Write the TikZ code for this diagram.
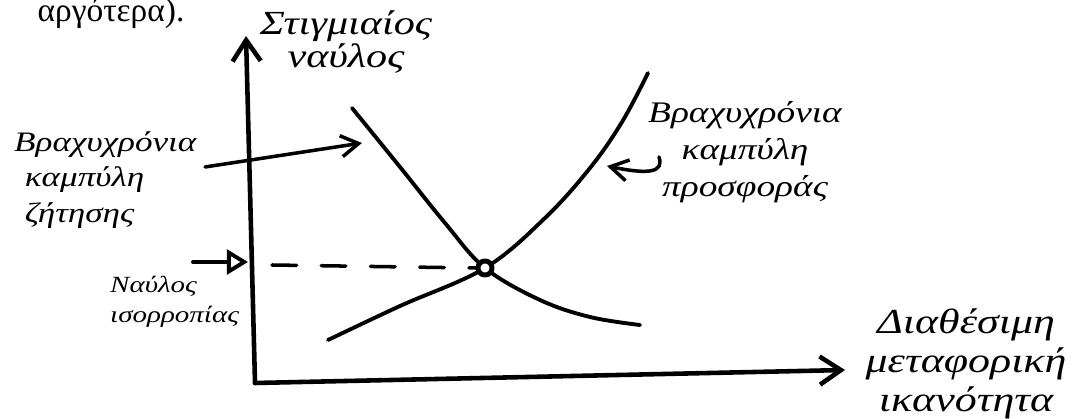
\documentclass[tikz,border=0pt]{standalone}
\usepackage{fontspec}
\setmainfont{Liberation Serif}
\newfontfamily\handfont[FakeStretch=1.25]{Liberation Serif}
\usetikzlibrary{arrows.meta, calc}
\tikzset{
  hand/.style={font=\handfont\itshape\fontsize{8.5}{10.5}\selectfont, align=center, inner sep=1pt},
  axisline/.style={line width=1.3pt, -{Straight Barb[length=6pt, width=8pt]}},
  curve/.style={line width=1.1pt},
  pointer/.style={line width=1pt, -{Straight Barb[length=5pt, width=6pt]}}
}

\begin{document}
\begin{tikzpicture}[x=0.01cm, y=-0.01cm, line cap=round, line join=round]
\useasboundingbox (0,0) rectangle (1080,419);
% printed text above
\node[font=\fontsize{9.5}{11}\selectfont, anchor=base] (later) at (111,22) {αργότερα).};
% axes
\coordinate (o) at (255,383);
\coordinate (ytop) at (246,36);
\coordinate (xend) at (845,370);
\draw[axisline] (o) -- (ytop);
\draw[axisline] (o) -- (xend);
\node[hand, font=\handfont\itshape\fontsize{9.6}{9.5}\selectfont] (ylab) at (346,42) {Στιγμιαίος\\ναύλος};
\node[hand, font=\handfont\itshape\fontsize{10}{11}\selectfont] (xlab) at (966,364) {Διαθέσιμη\\μεταφορική\\ικανότητα};
% curves
\coordinate (eq) at (485,268);
\draw[curve] plot[smooth, tension=0.6] coordinates {(352,108) (400,167) (445,223) (eq) (540,300) (590,317) (640,325)};
\draw[curve] plot[smooth, tension=0.6] coordinates {(328,340) (400,306) (eq) (545,218) (590,168) (622,122) (648,73)};
\node[circle, draw, line width=1.4pt, fill=white, inner sep=0pt, minimum size=4pt] (eqdot) at (eq) {};
% equilibrium level
\coordinate (eqlevel) at (272,265);
\draw[line width=1pt, dash pattern=on 7pt off 7pt] (eqlevel) -- (eqdot.west);
\node[hand, align=left, anchor=west, font=\handfont\itshape\fontsize{6.6}{8.5}\selectfont] (eqlab) at (106,302) {Ναύλος\\ισορροπίας};
\coordinate (eqtail) at (193,262);
\coordinate (eqhead) at (248,262);
\draw[line width=1.1pt, -{Triangle[open, length=6pt, width=7pt]}] (eqtail) -- (eqhead);
% demand label
\node[hand, align=left, anchor=west, font=\handfont\itshape\fontsize{8}{10.2}\selectfont] (dem) at (10,180) {Βραχυχρόνια\\\hspace*{3pt}καμπύλη\\\hspace*{3pt}ζήτησης};
\coordinate (demtail) at (205,167);
\coordinate (demhead) at (362,143);
\draw[pointer] (demtail) -- (demhead);
% supply label
\node[hand] (sup) at (745,152) {Βραχυχρόνια\\καμπύλη\\προσφοράς};
\coordinate (suptail) at (659,157);
\coordinate (suphead) at (607,166);
\draw[pointer] (suptail) .. controls (664,172) and (650,175) .. (suphead);
\end{tikzpicture}
\end{document}
